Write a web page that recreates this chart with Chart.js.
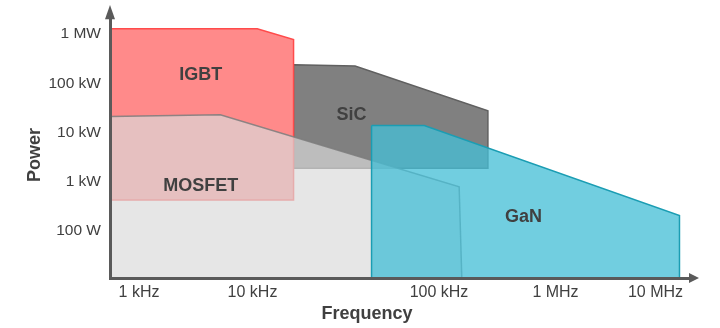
<!DOCTYPE html>
<html>
<head>
<meta charset="utf-8">
<script src="https://cdn.jsdelivr.net/npm/chart.js@4.4.1/dist/chart.umd.min.js"></script>
<style>
    body { margin: 0; background: #fff; }
    #wrap { width: 720px; height: 328px; }
</style>
</head>
<body>
<div id="wrap"><canvas id="charPowerFrequency" width="720" height="328"></canvas></div>
<script>
/* Ticks */
const freqTicks = [1e3, 1e4, 1e5, 1e6, 1e7];
const freqLabels = ['1 kHz', '10 kHz', '100 kHz', '1 MHz', '10 MHz'];
const powerTicks = [1e2, 1e3, 1e4, 1e5, 1e6];
const powerLabels = ['100 W', '1 kW', '10 kW', '100 kW', '1 MW'];

/* Operating regions (Hz, W) */
const sicFreq = [16.6e3, 35.5e3, 263e3, 263e3, 16.6e3];
const sicPower = [2.4e5, 2.25e5, 2.77e4, 1880, 1880];
const igbtFreq = [560, 10.6e3, 16.6e3, 16.6e3, 560];
const igbtPower = [1.28e6, 1.28e6, 7.8e5, 425, 425];
const mosfetFreq = [560, 5.2e3, 149e3, 157e3, 560];
const mosfetPower = [21.2e3, 23e3, 787, 11, 11];
const ganFreq = [43.5e3, 83.4e3, 17.3e6, 17.3e6, 43.5e3];
const ganPower = [13.8e3, 13.8e3, 205, 11, 11];

/* Region names and where they sit */
const regionNames = ['SiC', 'IGBT', 'MOSFET', 'GaN'];
const labelFreq = [34e3, 3.5e3, 3.5e3, 531e3];
const labelPower = [23e3, 150e3, 820, 195];

const freqMin = 555, freqMax = 22e6;
const powerMin = 11, powerMax = 2.1e6;

const axisColor = '#5a5a5a';
const textColor = '#404040';
const fontFamily = '"Liberation Sans", Arial, sans-serif';

// the frequency axis is not evenly spaced per decade
const decadeEdges = [freqMin, 1e3, 1e4, 1e5, 1e6, 1e7, freqMax].map(Math.log10);
const edgeFractions = [0, 0.05, 0.2457, 0.5672, 0.7681, 0.9405, 1];

class WarpedLogScale extends Chart.LogarithmicScale {
    static id = 'warpedLog';

    decimalFor(value) {
        const d = Math.log10(value);
        let i = 1;
        while (i < decadeEdges.length - 1 && d > decadeEdges[i]) i++;
        const t = (d - decadeEdges[i - 1]) / (decadeEdges[i] - decadeEdges[i - 1]);
        return edgeFractions[i - 1] + t * (edgeFractions[i] - edgeFractions[i - 1]);
    }

    getPixelForValue(value) {
        return this.getPixelForDecimal(this.decimalFor(value));
    }

    getValueForPixel(pixel) {
        const f = this.getDecimalForPixel(pixel);
        let i = 1;
        while (i < edgeFractions.length - 1 && f > edgeFractions[i]) i++;
        const t = (f - edgeFractions[i - 1]) / (edgeFractions[i] - edgeFractions[i - 1]);
        return Math.pow(10, decadeEdges[i - 1] + t * (decadeEdges[i] - decadeEdges[i - 1]));
    }
}
Chart.register(WarpedLogScale);

// closed polygon from two arrays
points = (freq, power) => {
    const pts = freq.map((f, i) => ({ x: f, y: power[i] }));
    pts.push(pts[0]);
    return pts;
};

region = (label, freq, power, fillColor, lineColor, order) => ({
    label: label,
    data: points(freq, power),
    fill: 'shape',
    backgroundColor: fillColor,
    borderColor: lineColor,
    borderWidth: 1.5,
    borderJoinStyle: 'miter',
    pointRadius: 0,
    tension: 0,
    order: order,
});

const regionLabels = {
    id: 'regionLabels',
    afterDatasetsDraw(chart) {
        const { ctx, scales: { x, y } } = chart;
        ctx.save();
        ctx.font = 'bold 18px ' + fontFamily;
        ctx.fillStyle = textColor;
        ctx.textAlign = 'center';
        ctx.textBaseline = 'middle';
        regionNames.forEach((name, i) => {
            ctx.fillText(name, x.getPixelForValue(labelFreq[i]), y.getPixelForValue(labelPower[i]));
        });
        ctx.restore();
    },
};

/* Axis arrows and titles */
const axisDecor = {
    id: 'axisDecor',
    afterDraw(chart) {
        const { ctx, chartArea: a } = chart;
        ctx.save();
        ctx.fillStyle = axisColor;
        ctx.beginPath();
        ctx.moveTo(a.left, 5);
        ctx.lineTo(a.left + 5, a.top + 1);
        ctx.lineTo(a.left - 5, a.top + 1);
        ctx.closePath();
        ctx.fill();
        ctx.beginPath();
        ctx.moveTo(a.right + 9, a.bottom);
        ctx.lineTo(a.right - 1, a.bottom - 5);
        ctx.lineTo(a.right - 1, a.bottom + 5);
        ctx.closePath();
        ctx.fill();

        ctx.fillStyle = textColor;
        ctx.font = 'bold 18px ' + fontFamily;
        ctx.textAlign = 'center';
        ctx.textBaseline = 'alphabetic';
        ctx.fillText('Frequency', 367, 319);
        ctx.translate(40, 155);
        ctx.rotate(-Math.PI / 2);
        ctx.fillText('Power', 0, 0);
        ctx.restore();
    },
};

Chart.defaults.font.family = fontFamily;

const cpf = document.getElementById('charPowerFrequency');
const charPowerFrequency = new Chart(cpf, {
    type: 'line',
    data: {
        datasets: [
            region('SiC', sicFreq, sicPower, '#808080', '#606060', 4),
            region('IGBT', igbtFreq, igbtPower, '#ff8a8a', '#ff4b4b', 3),
            region('MOSFET', mosfetFreq, mosfetPower, 'rgba(218, 218, 218, 0.68)', 'rgba(125, 125, 125, 0.85)', 2),
            region('GaN', ganFreq, ganPower, 'rgba(68, 190, 214, 0.76)', '#1b9db3', 1),
        ],
    },
    options: {
        responsive: false,
        animation: false,
        devicePixelRatio: 1,
        events: [],
        layout: {
            padding: { left: 0, top: 16, right: 30, bottom: 0 },
        },
        scales: {
            x: {
                type: 'warpedLog',
                min: freqMin,
                max: freqMax,
                bounds: 'data',
                grid: { display: false, drawTicks: false },
                border: { display: true, color: axisColor, width: 3, z: 1 },
                afterBuildTicks: (scale) => {
                    scale.ticks = freqTicks.map((v) => ({ value: v }));
                },
                afterFit: (scale) => {
                    scale.height = 50;
                },
                ticks: {
                    callback: (v) => freqLabels[freqTicks.indexOf(v)],
                    color: textColor,
                    font: { size: 16 },
                    padding: 5,
                    maxRotation: 0,
                    autoSkip: false,
                },
            },
            y: {
                type: 'logarithmic',
                min: powerMin,
                max: powerMax,
                bounds: 'data',
                grid: { display: false, drawTicks: false },
                border: { display: true, color: axisColor, width: 3, z: 1 },
                afterBuildTicks: (scale) => {
                    scale.ticks = powerTicks.map((v) => ({ value: v }));
                },
                afterFit: (scale) => {
                    scale.width = 110;
                },
                ticks: {
                    callback: (v) => powerLabels[powerTicks.indexOf(v)],
                    color: textColor,
                    font: { size: 15.5 },
                    padding: 9,
                    autoSkip: false,
                },
            },
        },
        plugins: {
            legend: { display: false },
            tooltip: { enabled: false },
        },
    },
    plugins: [regionLabels, axisDecor],
});
</script>
</body>
</html>
